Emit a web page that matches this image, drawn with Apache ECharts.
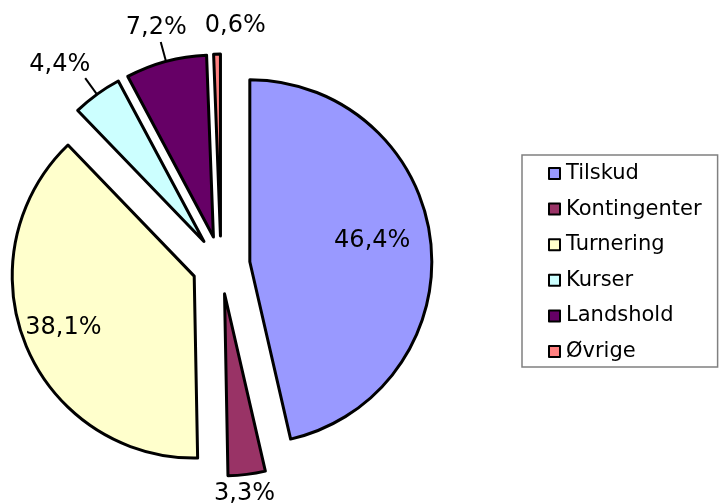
<!DOCTYPE html>
<html>
<head>
<meta charset="utf-8">
<script src="https://cdn.jsdelivr.net/npm/echarts@6/dist/echarts.min.js"></script>
<style>
html,body{margin:0;padding:0;background:#fff;}
#chart{width:720px;height:503px;}
</style>
</head>
<body>
<div id="chart"></div>
<script>
const categories = ['Tilskud', 'Kontingenter', 'Turnering', 'Kurser', 'Landshold', 'Øvrige'];
const values = [46.4, 3.3, 38.1, 4.4, 7.2, 0.6];
const colors = ['#9999FF', '#993366', '#FFFFCC', '#CCFFFF', '#660066', '#FF8080'];

// label style: placement + small shifts (styling only)
const labelPos = ['inside', 'outside', 'inside', 'outside', 'outside', 'outside'];
const lineShow = [false, false, false, true, true, false];
const lineLen = [10, 10, 10, 20, 20, 14];
const labelShift = [
  {dx: 29, dy: -10},
  {dx: -39, dy: 9},
  {dx: -44, dy: 16},
  {dx: 10, dy: -13},
  {dx: 31, dy: -14},
  {dx: 54, dy: -14}
];

const fmt = v => v.toFixed(1).replace('.', ',') + '%';

const data = categories.map((name, i) => ({
  name: name,
  value: values[i],
  selected: true,
  itemStyle: {color: colors[i]},
  label: {position: labelPos[i]},
  labelLine: {show: lineShow[i], length: lineLen[i], length2: 0}
}));

const chart = echarts.init(document.getElementById('chart'), null, {renderer: 'canvas'});
chart.setOption({
  backgroundColor: '#ffffff',
  animation: false,
  legend: {
    orient: 'vertical',
    left: 522,
    top: 155,
    padding: [8, 16, 5, 26],
    itemGap: 14.6,
    itemWidth: 11,
    itemHeight: 11,
    icon: 'rect',
    borderColor: '#808080',
    borderWidth: 1.5,
    selectedMode: false,
    itemStyle: {borderColor: '#000', borderWidth: 2},
    textStyle: {fontFamily: 'DejaVu Sans', fontSize: 21, color: '#000', padding: [0, 0, 0, 1]},
    data: categories
  },
  series: [{
    type: 'pie',
    center: [221, 265],
    radius: 182,
    startAngle: 90,
    clockwise: true,
    selectedMode: 'multiple',
    selectedOffset: 29,
    avoidLabelOverlap: false,
    emphasis: {disabled: true},
    itemStyle: {borderColor: '#000', borderWidth: 3},
    select: {itemStyle: {borderColor: '#000', borderWidth: 3}},
    label: {
      show: true,
      formatter: p => fmt(p.value),
      fontFamily: 'DejaVu Sans',
      fontSize: 24,
      color: '#000'
    },
    labelLine: {lineStyle: {color: '#000', width: 2}},
    labelLayout: p => labelShift[p.dataIndex],
    data: data
  }]
});
</script>
</body>
</html>
